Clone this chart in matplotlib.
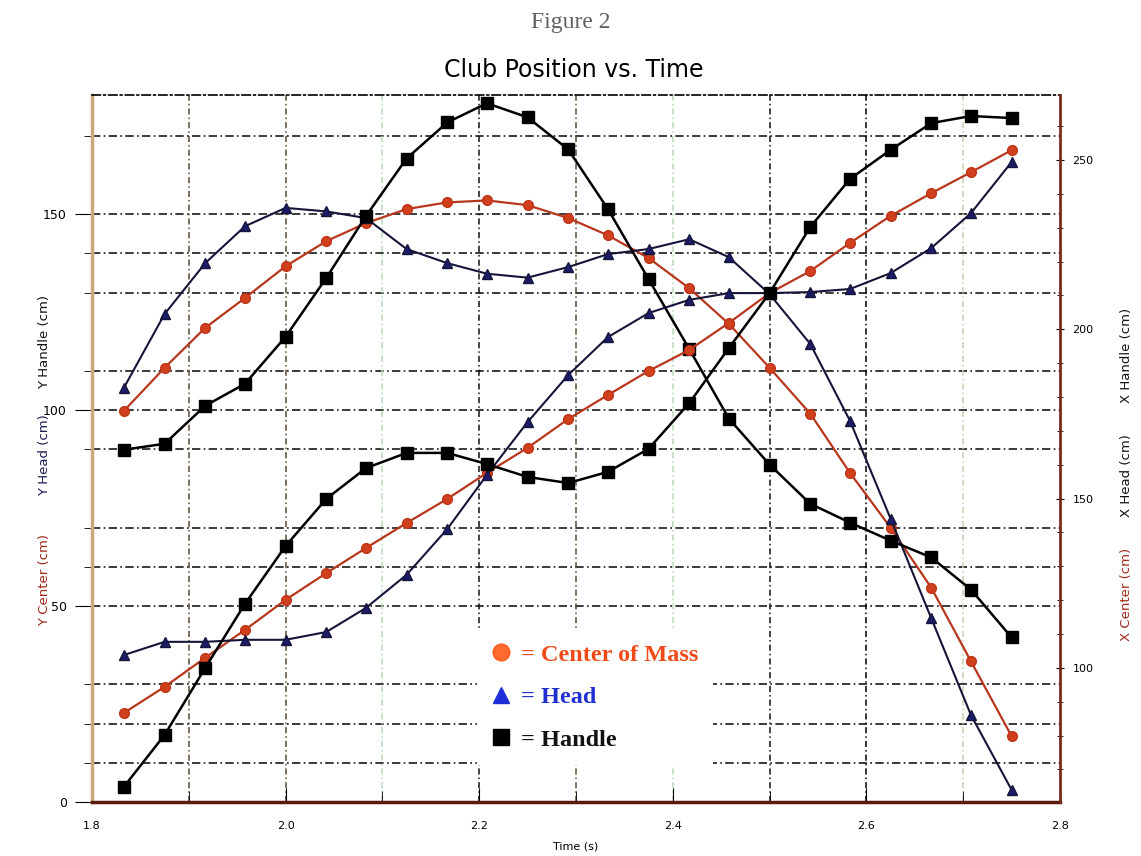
import matplotlib

matplotlib.use("Agg")
import matplotlib.pyplot as plt
from matplotlib.lines import Line2D
from matplotlib.ticker import MultipleLocator

# time of each frame (s)
time_s = [1.833, 1.875, 1.917, 1.958, 2.000, 2.042, 2.083, 2.125, 2.167, 2.208, 2.250, 2.292,
          2.333, 2.375, 2.417, 2.458, 2.500, 2.542, 2.583, 2.625, 2.667, 2.708, 2.750]

# left axis (cm)
y_center = [99.8, 110.8, 121.0, 128.6, 136.7, 143.1, 147.7, 151.3, 153.0, 153.5, 152.3, 149.0,
            144.6, 138.8, 131.1, 122.0, 110.8, 99.1, 84.0, 70.0, 54.7, 35.9, 16.8]
y_head = [105.7, 124.5, 137.5, 146.9, 151.6, 150.7, 149.0, 141.1, 137.5, 134.8, 133.8, 136.5,
          139.8, 141.1, 143.6, 139.0, 129.6, 116.9, 97.3, 72.3, 46.9, 22.2, 3.1]
y_handle = [89.9, 91.4, 101.1, 106.7, 118.7, 133.7, 149.5, 164.2, 173.4, 178.3, 174.7, 166.5,
            151.3, 133.4, 115.6, 97.8, 86.1, 76.1, 71.3, 66.7, 62.4, 54.2, 42.0]

# right axis (cm)
x_center = [86.7, 94.4, 103.0, 111.2, 120.1, 128.0, 135.4, 142.8, 149.9, 157.6, 165.0, 173.5,
            180.6, 187.7, 193.9, 201.9, 210.7, 217.2, 225.5, 233.5, 240.2, 246.4, 252.9]
x_head = [103.8, 107.7, 107.7, 108.3, 108.3, 110.6, 117.7, 127.5, 141.0, 157.0, 172.6, 186.5,
          197.7, 204.8, 208.7, 210.7, 210.7, 211.0, 211.9, 216.6, 224.0, 234.3, 249.4]
x_handle = [64.9, 80.2, 100.0, 118.9, 136.0, 149.9, 159.0, 163.5, 163.5, 160.2, 156.4, 154.6,
            157.9, 164.7, 178.2, 194.5, 210.7, 230.2, 244.4, 253.0, 260.9, 263.0, 262.4]

left_ticks = [0, 50, 100, 150]
left_grid = [10, 20, 30, 50, 60, 70, 90, 100, 110, 130, 140, 150, 170]
right_ticks = [100, 150, 200, 250]
x_ticks = [1.8, 2.0, 2.2, 2.4, 2.6, 2.8]
x_grid = [1.9, 2.0, 2.1, 2.2, 2.3, 2.4, 2.5, 2.6, 2.7]
x_grid_colors = ["#5a4a30", "#5a4a30", "#b8d8b8", "#111111", "#5a4a30", "#b8d8b8",
                 "#111111", "#000000", "#c8d0b0"]

fig = plt.figure(figsize=(11.41, 8.56), dpi=100)
ax = fig.add_axes([0.0806, 0.0631, 0.8484, 0.8259])
axr = ax.twinx()

for v in left_grid:
    ax.axhline(v, color="#1a1a1a", lw=1.2, ls=(0, (5, 2, 1, 2)), zorder=0)
for xv, c in zip(x_grid, x_grid_colors):
    ax.axvline(xv, color=c, lw=1.1, ls=(0, (4, 2, 1, 2)), zorder=0)

center_style = dict(color="#b8361c", lw=1.6, marker="o", ms=7, mfc="#d0401c", mec="#c03418")
head_style = dict(color="#15153a", lw=1.5, marker="^", ms=6.5, mfc="#1c1c6a", mec="#15153a")
handle_style = dict(color="#000000", lw=1.8, marker="s", ms=8.5, mfc="#000000", mec="#000000")

ax.plot(time_s, y_center, **center_style)
ax.plot(time_s, y_head, **head_style)
ax.plot(time_s, y_handle, **handle_style)
axr.plot(time_s, x_center, **center_style)
axr.plot(time_s, x_head, **head_style)
axr.plot(time_s, x_handle, **handle_style)

ax.set_xlim(1.8, 2.8)
ax.set_ylim(0, 180.4)
axr.set_ylim(60.4, 269.2)

ax.set_xticks(x_ticks)
ax.set_xticklabels([f"{v:.1f}" for v in x_ticks])
ax.xaxis.set_minor_locator(MultipleLocator(0.1))
ax.tick_params(axis="x", which="major", length=10, direction="in", labelsize=8, pad=14)
ax.tick_params(axis="x", which="minor", length=8, direction="in")

ax.set_yticks(left_ticks)
ax.set_yticks(left_grid, minor=True)
ax.tick_params(axis="y", which="major", length=12, direction="out", labelsize=9, pad=6)
ax.tick_params(axis="y", which="minor", length=6, direction="out")

axr.set_yticks(right_ticks)
axr.yaxis.set_minor_locator(MultipleLocator(10))
axr.tick_params(axis="y", which="major", length=6, direction="inout", labelsize=8, pad=6)
axr.tick_params(axis="y", which="minor", length=5, direction="inout")

ax.spines["left"].set_color("#c9a87c")
ax.spines["left"].set_linewidth(2.5)
ax.spines["bottom"].set_color("#5a1a10")
ax.spines["bottom"].set_linewidth(2.5)
ax.spines["top"].set_linestyle((0, (5, 2, 1, 2)))
ax.spines["top"].set_linewidth(1.2)
ax.spines["right"].set_visible(False)
for side in ("left", "bottom", "top"):
    axr.spines[side].set_visible(False)
axr.spines["right"].set_color("#7a2a1a")
axr.spines["right"].set_linestyle((0, (1, 1)))
axr.spines["right"].set_linewidth(2)

ax.set_xlabel("Time (s)", fontsize=8, labelpad=7)

fig.text(0.5, 0.974, "Figure 2", ha="center", va="center", family="Liberation Serif",
         fontsize=17, color="#606060")
fig.text(0.503, 0.918, "Club Position vs. Time", ha="center", va="center", fontsize=17)

lab = dict(rotation=90, ha="center", va="center", fontsize=9.5)
fig.text(0.039, 0.322, "Y Center (cm)", color="#a02818", **lab)
fig.text(0.039, 0.468, "Y Head (cm)", color="#1a1a50", **lab)
fig.text(0.039, 0.601, "Y Handle (cm)", color="#111111", **lab)
fig.text(0.987, 0.305, "X Center (cm)", color="#a02818", **lab)
fig.text(0.987, 0.445, "X Head (cm)", color="#111111", **lab)
fig.text(0.987, 0.585, "X Handle (cm)", color="#111111", **lab)

handles = [
    Line2D([], [], ls="none", marker="o", ms=12, mfc="#ff6a30", mec="#ff5a1a"),
    Line2D([], [], ls="none", marker="^", ms=12, mfc="#2030d8", mec="#2030d8"),
    Line2D([], [], ls="none", marker="s", ms=12, mfc="#000000", mec="#000000"),
]
leg = axr.legend(handles, ["= Center of Mass", "= Head", "= Handle"], loc="upper left",
                 bbox_to_anchor=(0.385, 0.262), frameon=True, facecolor="white", edgecolor="none",
                 framealpha=1, fancybox=False, handlelength=0.8, handletextpad=0.4,
                 labelspacing=0.85, borderpad=0.6,
                 prop={"family": "Liberation Serif", "weight": "bold", "size": 17.5},
                 labelcolor=["#f04a18", "#2030d0", "#111111"])

fig.savefig("out.png", dpi=100)
